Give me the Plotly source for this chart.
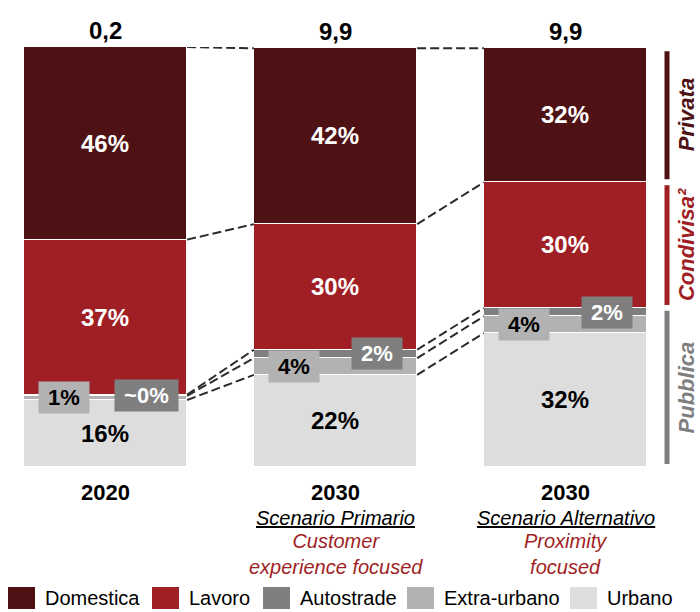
import plotly.graph_objects as go

# Categories (bars) and stacked series, bottom to top
years = ["2020", "2030", "2030"]
scenarios = ["", "Scenario Primario", "Scenario Alternativo"]
focus = ["", "Customer<br>experience focused", "Proximity<br>focused"]
totals = ["0,2", "9,9", "9,9"]

series_names = ["Urbano", "Extra-urbano", "Autostrade", "Lavoro", "Domestica"]
urbano = [16, 22, 32]
extra_urbano = [1, 4, 4]
autostrade = [0.3, 2, 2]
lavoro = [37, 30, 30]
domestica = [46, 42, 32]
series_values = [urbano, extra_urbano, autostrade, lavoro, domestica]

colors = {
    "Domestica": "#4E1114",
    "Lavoro": "#A01F24",
    "Autostrade": "#7F7F7F",
    "Extra-urbano": "#B2B2B2",
    "Urbano": "#DDDDDD",
}
text_colors = {"Domestica": "white", "Lavoro": "white", "Urbano": "black",
               "Autostrade": "white", "Extra-urbano": "black"}

# Ownership groups on the right, spanning series of the last bar
groups = [("Privata", ["Domestica"], "#4E1114"),
          ("Condivisa²", ["Lavoro"], "#A01F24"),
          ("Pubblica", ["Autostrade", "Extra-urbano", "Urbano"], "#7F7F7F")]

FONT = "Liberation Sans, Arial, sans-serif"
xs = list(range(len(years)))
W = 0.71


def pct(v):
    return "~0%" if v < 0.5 else f"{v:.0f}%"


fig = go.Figure()
small = {"Autostrade", "Extra-urbano"}
for name, vals in zip(series_names, series_values):
    fig.add_trace(go.Bar(
        x=xs, y=vals, name=name, width=W,
        marker=dict(color=colors[name], line=dict(color="white", width=1)),
        text=["" if name in small else pct(v) for v in vals],
        textposition="inside", insidetextanchor="middle", textangle=0,
        textfont=dict(family=FONT, size=24, color=text_colors[name], weight="bold"),
        hoverinfo="skip", showlegend=False,
    ))

# cumulative boundaries per bar
cums = []
for i in xs:
    c = [0]
    for vals in series_values:
        c.append(c[-1] + vals[i])
    cums.append(c)
ymax = max(c[-1] for c in cums)

shapes = []
annotations = []

# dashed connectors between segment boundaries of neighbouring bars
for i in xs[:-1]:
    for k in range(1, len(series_names) + 1):
        shapes.append(dict(type="line", xref="x", yref="y",
                           x0=i + W / 2, x1=i + 1 - W / 2,
                           y0=cums[i][k], y1=cums[i + 1][k],
                           line=dict(color="#2b2b2b", width=2, dash="9px,4px")))

# boxed labels for the thin segments
for i in xs:
    for k, name in enumerate(series_names):
        if name not in small:
            continue
        v = series_values[k][i]
        mid = (cums[i][k] + cums[i][k + 1]) / 2
        dx = -0.18 if name == "Extra-urbano" else 0.18
        annotations.append(dict(
            x=i + dx, y=mid, xref="x", yref="y", showarrow=False,
            text=f" {pct(v)} ", bgcolor=colors[name], borderpad=3,
            font=dict(family=FONT, size=22, color=text_colors[name], weight="bold"),
        ))

# totals above bars
for i in xs:
    annotations.append(dict(x=i, y=cums[i][-1], xref="x", yref="y", yanchor="middle",
                            yshift=17, showarrow=False, text=totals[i],
                            font=dict(family=FONT, size=24, color="black", weight="bold")))

# category labels below bars
for i in xs:
    annotations.append(dict(x=i, y=0, xref="x", yref="paper", yanchor="middle",
                            yshift=-25, showarrow=False, text=years[i],
                            font=dict(family=FONT, size=22, color="black", weight="bold")))
    if scenarios[i]:
        annotations.append(dict(x=i, y=0, xref="x", yref="paper", yanchor="middle",
                                yshift=-51, showarrow=False,
                                text=f"<i><u>{scenarios[i]}</u></i>",
                                font=dict(family=FONT, size=20, color="black")))
        annotations.append(dict(x=i, y=0, xref="x", yref="paper", yanchor="middle",
                                yshift=-87, showarrow=False,
                                text=f"<i>{focus[i]}</i>",
                                font=dict(family=FONT, size=20, color="#A01F24")))

# ownership brackets on the right, aligned with the last bar
last = cums[-1]
for label, members, col in groups:
    idx = [series_names.index(m) for m in members]
    lo = last[min(idx)]
    hi = last[max(idx) + 1]
    shapes.append(dict(type="line", xref="paper", yref="y",
                       x0=667 / 700, x1=667 / 700, y0=lo + 0.7, y1=hi - 0.7,
                       line=dict(color=col, width=5)))
    annotations.append(dict(x=686 / 700, y=(lo + hi) / 2, xref="paper", yref="y",
                            xanchor="center", yanchor="middle",
                            showarrow=False, textangle=-90, text=f"<i>{label}</i>",
                            font=dict(family=FONT, size=22, color=col, weight="bold")))

# legend row
legend_order = ["Domestica", "Lavoro", "Autostrade", "Extra-urbano", "Urbano"]
legend_x = [8, 152, 263, 407, 570]
for name, lx in zip(legend_order, legend_x):
    shapes.append(dict(type="rect", xref="paper", yref="paper",
                       x0=lx / 700, x1=(lx + 27) / 700,
                       y0=(612 - 609) / 420 - 145 / 420, y1=(612 - 587) / 420 - 145 / 420,
                       fillcolor=colors[name], line=dict(width=0)))
    annotations.append(dict(x=(lx + 35) / 700, y=(612 - 598) / 420 - 145 / 420,
                            xref="paper", yref="paper", xanchor="left", yanchor="middle",
                            showarrow=False, text=name,
                            font=dict(family=FONT, size=20, color="black")))

x_lo = -105.5 / 230
fig.update_layout(
    width=700, height=612,
    margin=dict(l=0, r=0, t=47, b=145),
    paper_bgcolor="white", plot_bgcolor="white",
    barmode="stack", bargap=0,
    xaxis=dict(range=[x_lo, x_lo + 700 / 230], visible=False, fixedrange=True),
    yaxis=dict(range=[0, ymax], visible=False, fixedrange=True),
    shapes=shapes, annotations=annotations,
    uniformtext=dict(minsize=10, mode="show"),
)

fig.write_html("out.html")
